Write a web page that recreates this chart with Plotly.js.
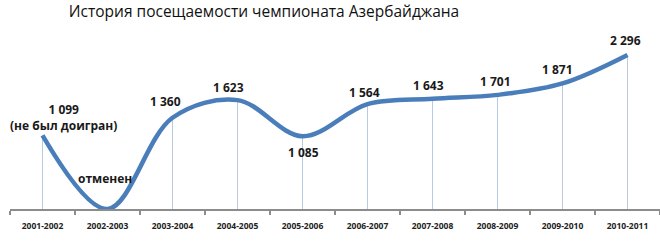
<!DOCTYPE html>
<html><head><meta charset="utf-8">
<script src="https://cdn.plot.ly/plotly-3.0.1.min.js"></script>
<style>body{margin:0;background:#fff}#c{width:660px;height:241px}</style>
</head><body><div id="c"></div>
<script>
const seasons = ["2001-2002","2002-2003","2003-2004","2004-2005","2005-2006","2006-2007","2007-2008","2008-2009","2009-2010","2010-2011"];
const attendance = [1099, 0, 1360, 1623, 1085, 1564, 1643, 1701, 1871, 2296];
const pointLabels = ["1 099<br>(не был доигран)","отменен","1 360","1 623","1 085","1 564","1 643","1 701","1 871","2 296"];
const titleText = "История посещаемости чемпионата Азербайджана";

// label offsets (px) relative to each point – style only
const labelShiftX = [21, -3, -7, -9, 1, -3, -4, -2, -5, -2];
const labelShiftY = [18, 31, 16, 13, -16, 12, 13, 13, 14, 14];

const FONT = "Open Sans, sans-serif";

const dropTrace = {
  x: seasons, y: attendance, type: "scatter", mode: "markers",
  marker: {size: 1, color: "rgba(0,0,0,0)"},
  error_y: {type: "data", symmetric: false, array: attendance.map(() => 0),
            arrayminus: attendance, width: 0, thickness: 1, color: "#B7CAE3"},
  hoverinfo: "skip", showlegend: false
};
const lineTrace = {
  x: seasons, y: attendance, type: "scatter", mode: "lines",
  line: {shape: "spline", smoothing: 1, color: "#4A7EBB", width: 4.5},
  showlegend: false
};

const annotations = seasons.map((s, i) => ({
  x: s, y: attendance[i], text: pointLabels[i], showarrow: false,
  xshift: labelShiftX[i], yshift: labelShiftY[i],
  font: {family: FONT, size: 12, color: "#1a1a1a", weight: "bold"}
}));

const layout = {
  width: 660, height: 241,
  margin: {l: 10, r: 0, t: 30, b: 32},
  paper_bgcolor: "#fff", plot_bgcolor: "#fff",
  title: {text: titleText, x: 0.4, xanchor: "center", y: 0.95, yanchor: "middle",
          font: {family: FONT, size: 15.5, color: "#111"}},
  xaxis: {type: "category", range: [-0.5, 9.5], showgrid: false, zeroline: false,
          showline: true, linecolor: "#8c8c8c", linewidth: 1.5,
          ticks: "outside", tickson: "boundaries", ticklen: 4, tickcolor: "#8c8c8c", tickwidth: 1.5,
          ticklabelstandoff: 8,
          tickfont: {family: FONT, size: 8.5, color: "#222", weight: "bold"}},
  yaxis: {range: [0, 2668], visible: false, showgrid: false, zeroline: false},
  annotations: annotations
};

Plotly.newPlot("c", [dropTrace, lineTrace], layout, {displayModeBar: false, staticPlot: true});
</script></body></html>
